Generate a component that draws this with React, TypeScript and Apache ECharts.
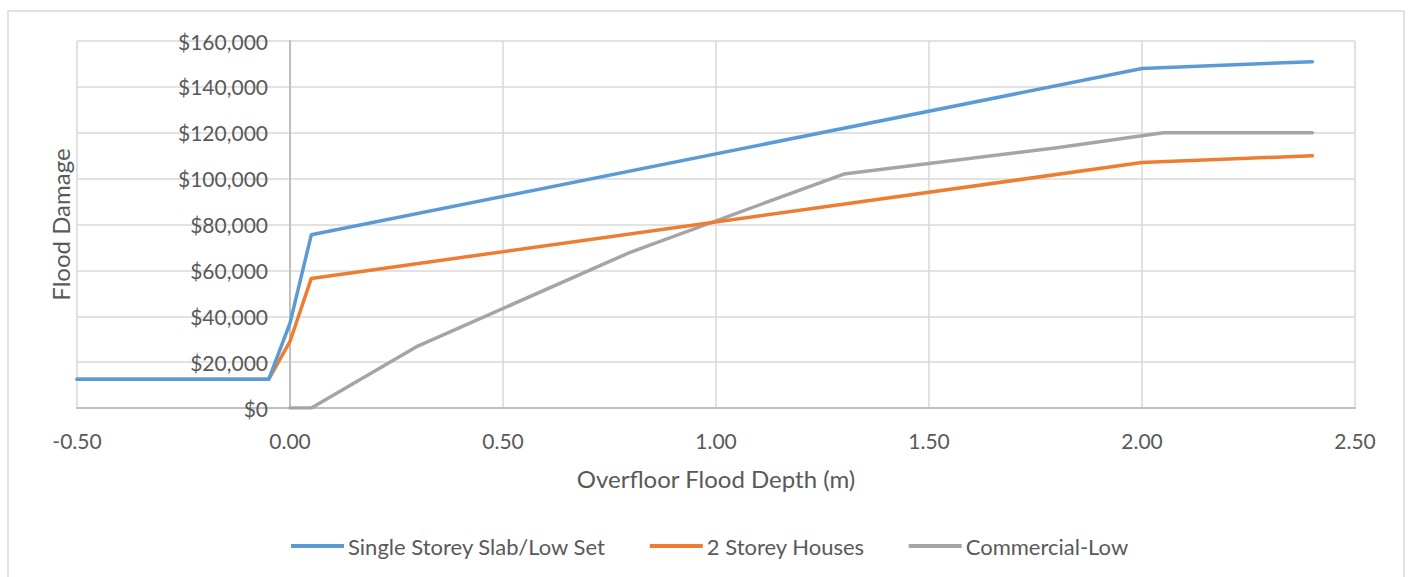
import React, { useEffect, useRef } from "react";
import * as echarts from "echarts";

const seriesNames = ["Single Storey Slab/Low Set", "2 Storey Houses", "Commercial-Low"];
const singleStorey: [number, number][] = [
  [-0.5, 12500], [-0.05, 12500], [0, 37000], [0.05, 75500], [2.0, 148000], [2.4, 151000],
];
const twoStorey: [number, number][] = [
  [-0.5, 12500], [-0.05, 12500], [0, 29000], [0.05, 56500], [2.0, 107000], [2.4, 110000],
];
const commercialLow: [number, number][] = [
  [0, 0], [0.05, 0], [0.3, 27000], [0.8, 68000], [1.3, 102000], [1.8, 113500], [2.05, 120000], [2.4, 120000],
];
const colors = ["#5b9bd5", "#ed7d31", "#a5a5a5"];
const FONT = "Lato";

export default function App() {
  const ref = useRef<HTMLDivElement>(null);
  useEffect(() => {
    if (!ref.current) return;
    const chart = echarts.init(ref.current, undefined, { renderer: "svg" });
    const dataSets = [singleStorey, twoStorey, commercialLow];
    chart.setOption({
      animation: false,
      backgroundColor: "#ffffff",
      textStyle: { fontFamily: FONT },
      graphic: [
        {
          type: "rect",
          shape: { x: 8, y: 11, width: 1396, height: 580 },
          style: { fill: "none", stroke: "#d9d9d9", lineWidth: 1.5 },
          silent: true,
        },
      ],
      grid: { left: 77, right: 53, top: 41, bottom: 169, containLabel: false, outerBoundsMode: "none" },
      xAxis: {
        type: "value",
        min: -0.5,
        max: 2.5,
        interval: 0.5,
        name: "Overfloor Flood Depth (m)",
        nameLocation: "middle",
        nameGap: 58,
        nameMoveOverlap: false,
        nameTextStyle: { fontSize: 24, color: "#595959", fontFamily: FONT },
        axisLine: { show: true, onZero: true, lineStyle: { color: "#bfbfbf", width: 2 } },
        axisTick: { show: false },
        axisLabel: {
          margin: 22,
          fontSize: 21,
          color: "#595959",
          fontFamily: FONT,
          formatter: (v: number) => v.toFixed(2),
        },
        splitLine: { show: true, lineStyle: { color: "#d9d9d9", width: 1.5 } },
      },
      yAxis: {
        type: "value",
        min: 0,
        max: 160000,
        interval: 20000,
        name: "Flood Damage",
        nameLocation: "middle",
        nameGap: 5,
        nameMoveOverlap: false,
        nameTextStyle: { fontSize: 24, color: "#595959", fontFamily: FONT },
        axisLine: { show: true, onZero: true, lineStyle: { color: "#bfbfbf", width: 2 } },
        axisTick: { show: false },
        axisLabel: {
          margin: -191,
          fontSize: 21,
          color: "#595959",
          fontFamily: FONT,
          formatter: (v: number) => "$" + v.toLocaleString("en-US"),
        },
        splitLine: { show: true, lineStyle: { color: "#d9d9d9", width: 1.5 } },
      },
      legend: {
        bottom: 15,
        left: 286,
        itemWidth: 53,
        itemHeight: 4,
        itemGap: 44,
        icon: "rect",
        textStyle: { fontSize: 22, color: "#595959", fontFamily: FONT, padding: [0, 0, 0, -1] },
        data: seriesNames,
      },
      series: dataSets.map((d, i) => ({
        name: seriesNames[i],
        type: "line",
        data: d,
        symbol: "none",
        showSymbol: false,
        lineStyle: { color: colors[i], width: 3.5, cap: "round", join: "round" },
        itemStyle: { color: colors[i] },
        z: 3 - i,
      })),
    });
    return () => chart.dispose();
  }, []);
  return (
    <div
      ref={ref}
      style={{ position: "fixed", left: 0, top: 0, width: 1408, height: 577 }}
    />
  );
}
